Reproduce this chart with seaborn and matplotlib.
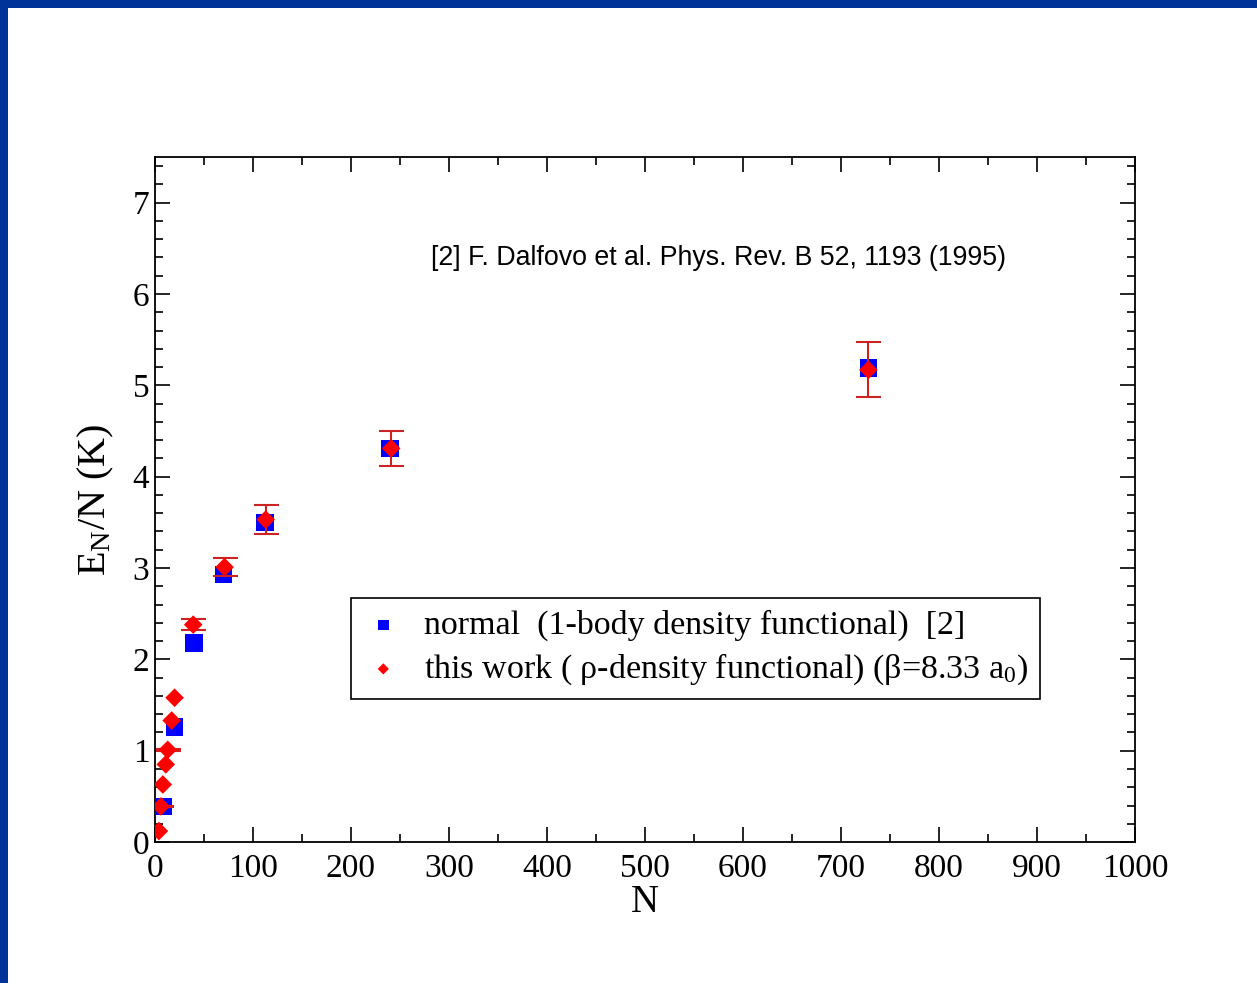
import matplotlib
matplotlib.use("Agg")
import matplotlib.pyplot as plt
import seaborn as sns
import pandas as pd
from matplotlib.patches import Rectangle
from matplotlib.ticker import MultipleLocator

# Dados
n_normal = [8, 20, 40, 70, 112, 240, 728]
e_normal = [0.39, 1.26, 2.18, 2.93, 3.50, 4.31, 5.19]

n_work = [4, 6, 8, 11, 13, 17, 20, 39, 71, 113, 241, 728]
e_work = [0.12, 0.39, 0.63, 0.85, 1.01, 1.33, 1.58, 2.38, 3.01, 3.53, 4.31, 5.17]
err_work = [0.0, 0.01, 0.0, 0.0, 0.01, 0.0, 0.0, 0.06, 0.10, 0.16, 0.19, 0.30]

label_normal = "normal  (1-body density functional)  [2]"
label_work = "this work ( ρ-density functional) (β=8.33 a$_0$)"
ref_text = "[2] F. Dalfovo et al. Phys. Rev. B 52, 1193 (1995)"

df_normal = pd.DataFrame({"N": n_normal, "E": e_normal})
df_work = pd.DataFrame({"N": n_work, "E": e_work, "err": err_work})
df_err = df_work[df_work["err"] > 0]

sns.set_style("ticks")
plt.rcParams["font.family"] = ["Liberation Serif", "DejaVu Serif"]
plt.rcParams["mathtext.fontset"] = "custom"
plt.rcParams["mathtext.rm"] = "Liberation Serif"
plt.rcParams["mathtext.it"] = "Liberation Serif"
plt.rcParams["mathtext.default"] = "rm"
for k in ["text.color", "axes.labelcolor", "xtick.color", "ytick.color", "axes.edgecolor"]:
    plt.rcParams[k] = "black"

fig = plt.figure(figsize=(12.57, 9.83), dpi=100)
ax = fig.add_axes([0.1233, 0.1434, 0.7796, 0.6969])

# Moldura azul (topo e esquerda)
fig.patches.append(Rectangle((0, 1 - 8 / 983), 1, 8 / 983, transform=fig.transFigure,
                             facecolor="#003399", edgecolor="none"))
fig.patches.append(Rectangle((0, 0), 8 / 1257, 1, transform=fig.transFigure,
                             facecolor="#003399", edgecolor="none"))

sns.scatterplot(data=df_normal, x="N", y="E", marker="s", s=160, color="#0000ff",
                edgecolor="none", ax=ax, label=label_normal, zorder=3)
ax.errorbar(df_err["N"], df_err["E"], yerr=df_err["err"], fmt="none",
            ecolor="#cc2222", elinewidth=1.5, capsize=9, capthick=1.5, zorder=4)
sns.scatterplot(data=df_work, x="N", y="E", marker="D", s=90, color="#ff0000",
                edgecolor="none", ax=ax, label=label_work, zorder=5)

ax.set_xlim(0, 1000)
ax.set_ylim(0, 7.5)
ax.xaxis.set_major_locator(MultipleLocator(100))
ax.xaxis.set_minor_locator(MultipleLocator(50))
ax.yaxis.set_major_locator(MultipleLocator(1))
ax.yaxis.set_minor_locator(MultipleLocator(0.2))
ax.tick_params(which="both", direction="in", top=True, right=True, width=1.2,
               labelsize=24)
ax.tick_params(axis="x", pad=8)
ax.tick_params(axis="y", pad=4)
ax.tick_params(which="major", length=11)
ax.tick_params(which="minor", length=6)
for sp in ax.spines.values():
    sp.set_linewidth(1.3)

ax.set_xlabel("N", fontsize=28, labelpad=0)
ax.set_ylabel("E$_N$/N (K)", fontsize=29, labelpad=12)

ax.text(282, 6.39, ref_text, fontsize=19.3, family="Liberation Sans",
        va="center", ha="left")

leg = ax.legend(loc="upper left", bbox_to_anchor=(0.2, 0.356),
                fontsize=24.5, frameon=True, fancybox=False,
                edgecolor="black", framealpha=1, handletextpad=0.6,
                borderpad=0.35, labelspacing=0.3, markerscale=0.6,
                handlelength=1.2, borderaxespad=0)
leg.get_frame().set_linewidth(1.2)

fig.savefig("out.png", dpi=100)
